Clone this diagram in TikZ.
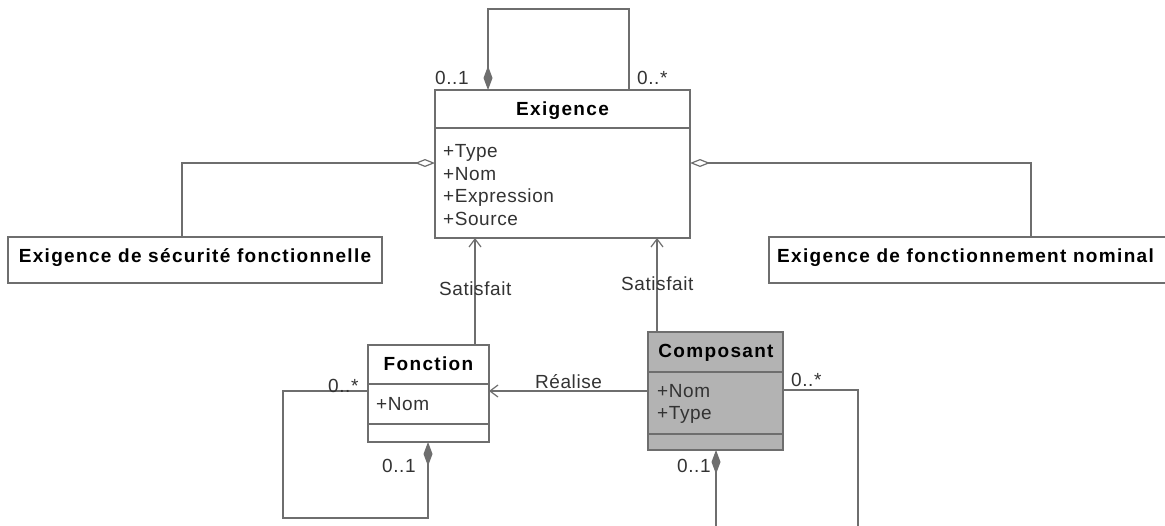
\documentclass[tikz,border=0pt]{standalone}
\usepackage{fontspec}
\setmainfont{Liberation Sans}[LetterSpace=3]
\newfontfamily\tfont{Liberation Sans}[LetterSpace=7]
\usetikzlibrary{arrows.meta,calc}
\definecolor{ln}{HTML}{6E6E6E}
\definecolor{compfill}{HTML}{B3B3B3}
\definecolor{txt}{HTML}{333333}
\begin{document}
\begin{tikzpicture}[x=1pt,y=-1pt,
  box/.style={draw=ln, line width=1.2pt, inner sep=0pt, outer sep=0pt, anchor=north west, rectangle},
  ttl/.style={font=\tfont\bfseries\fontsize{19}{22}\selectfont, anchor=base, inner sep=0pt, text=black},
  attr/.style={font=\fontsize{19}{22}\selectfont, anchor=base west, inner sep=0pt, text=txt},
  lbl/.style={font=\fontsize{19}{22}\selectfont, anchor=base west, inner sep=0pt, text=txt},
  conn/.style={draw=ln, line width=1.2pt},
  compo/.style={conn, {Diamond[length=24pt,width=9pt,fill=ln]}-},
  aggr/.style={conn, {Diamond[open,length=20pt,width=8pt]}-},
  navi/.style={conn, -{Straight Barb[length=8pt,width=12pt]}}
]
\useasboundingbox (0,0) rectangle (1165,525);
\clip (0,0) rectangle (1165,525);
\fill[white] (0,0) rectangle (1165,525);

% class boxes
\node[box, minimum width=255pt, minimum height=148pt] (exig) at (435,90) {};
\node[box, minimum width=121pt, minimum height=97pt] (fonc) at (368,345) {};
\node[box, fill=compfill, minimum width=135pt, minimum height=118pt] (comp) at (648,332) {};
\node[box, minimum width=374pt, minimum height=46pt] (secu) at (8,237) {};
\node[box, minimum width=420pt, minimum height=46pt] (nomi) at (769,237) {};

% compartments
\draw[conn] ($(exig.north west)+(0,38)$) -- ($(exig.north east)+(0,38)$);
\draw[conn] ($(fonc.north west)+(0,39)$) -- ($(fonc.north east)+(0,39)$);
\draw[conn] ($(fonc.north west)+(0,79)$) -- ($(fonc.north east)+(0,79)$);
\draw[conn] ($(comp.north west)+(0,40)$) -- ($(comp.north east)+(0,40)$);
\draw[conn] ($(comp.north west)+(0,102)$) -- ($(comp.north east)+(0,102)$);

% texts
\node[ttl] (tExig) at (562.5,115) {Exigence};
\node[attr] (a1) at (443,157) {+Type};
\node[attr] (a2) at (443,180) {+Nom};
\node[attr] (a3) at (443,202) {+Expression};
\node[attr] (a4) at (443,225) {+Source};
\node[ttl] (tFonc) at (428.5,370) {Fonction};
\node[attr] (f1) at (376,410) {+Nom};
\node[ttl] (tComp) at (716,357) {Composant};
\node[attr] (c1) at (657,397) {+Nom};
\node[attr] (c2) at (657,419) {+Type};
\node[ttl] (tSecu) at (195,262) {Exigence de sécurité fonctionnelle};
\node[ttl, anchor=base west] (tNomi) at (777,262) {Exigence de fonctionnement nominal};

% connectors
\coordinate (eloop) at (560,9);
\draw[compo] ($(exig.north west)+(53,0)$) |- (eloop) -| ($(exig.north west)+(194,0)$);
\draw[aggr] ($(exig.north west)+(0,73)$) -| ($(secu.north west)+(174,0)$);
\draw[aggr] ($(exig.north east)+(0,73)$) -| ($(nomi.north west)+(262,0)$);
\draw[navi] ($(fonc.north west)+(107,0)$) -- ($(exig.south west)+(40,0)$);
\draw[navi] ($(comp.north west)+(9,0)$) -- ($(exig.south west)+(222,0)$);
\draw[navi] (comp.west) -- (comp.west -| fonc.east);
\coordinate (floop) at (283,518);
\draw[compo] ($(fonc.south west)+(60,0)$) |- (floop) |- ($(fonc.north west)+(0,46)$);
\coordinate (cright) at (858,530);
\draw[conn] ($(comp.north east)+(0,58)$) -| (cright);
\coordinate (cbot) at (716,530);
\draw[compo] ($(comp.south west)+(68,0)$) -- (cbot);

% labels
\node[lbl] (m1) at (435,84) {0..1};
\node[lbl] (m2) at (637,84) {0..*};
\node[lbl] (s1) at (439,295) {Satisfait};
\node[lbl] (s2) at (621,290) {Satisfait};
\node[lbl] (r1) at (535,388) {Réalise};
\node[lbl] (m3) at (328,392) {0..*};
\node[lbl] (m4) at (382,472) {0..1};
\node[lbl] (m5) at (791,386) {0..*};
\node[lbl] (m6) at (677,472) {0..1};
\end{tikzpicture}
\end{document}
